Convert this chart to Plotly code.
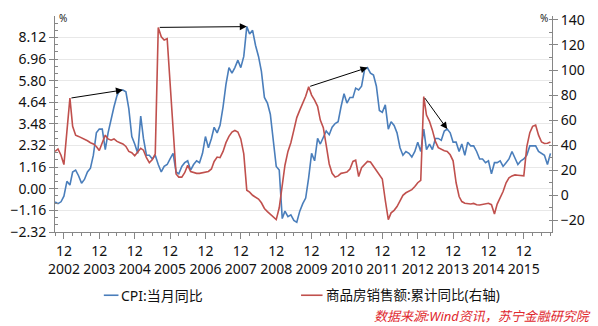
import pandas as pd
import plotly.graph_objects as go

# Monthly series, Sep 2002 - Sep 2016
months = pd.date_range("2002-09-01", periods=169, freq="MS")

# CPI: year-on-year, current month (%)
cpi_yoy = [
    -0.7, -0.8, -0.7, -0.4,
    0.4, 0.2, 0.9, 1.0, 0.7, 0.3, 0.5, 0.9, 1.1, 1.8, 3.0, 3.2,
    3.2, 2.1, 3.0, 3.8, 4.4, 5.0, 5.3, 5.3, 5.2, 4.3, 2.8, 2.4,
    1.9, 3.9, 2.7, 1.8, 1.8, 1.6, 1.8, 1.3, 0.9, 1.2, 1.3, 1.6,
    1.9, 0.9, 0.8, 1.2, 1.4, 1.5, 1.0, 1.3, 1.5, 1.4, 1.9, 2.8,
    2.2, 2.7, 3.3, 3.0, 3.4, 4.4, 5.6, 6.5, 6.2, 6.5, 6.9, 6.5,
    7.1, 8.7, 8.3, 8.5, 7.7, 7.1, 6.3, 4.9, 4.6, 4.0, 2.4, 1.2,
    1.0, -1.6, -1.2, -1.5, -1.4, -1.7, -1.8, -1.2, -0.8, -0.5, 0.6, 1.9,
    1.5, 2.7, 2.4, 2.8, 3.1, 2.9, 3.3, 3.5, 3.6, 4.4, 5.1, 4.6,
    4.9, 4.9, 5.4, 5.3, 5.5, 6.4, 6.5, 6.2, 6.1, 5.5, 4.2, 4.1,
    4.5, 3.2, 3.6, 3.4, 3.0, 2.2, 1.8, 2.0, 1.9, 1.7, 2.0, 2.5,
    2.0, 3.2, 2.1, 2.4, 2.1, 2.7, 2.7, 2.6, 3.1, 3.2, 3.0, 2.5,
    2.5, 2.0, 2.4, 1.8, 2.5, 2.3, 2.3, 2.0, 1.6, 1.6, 1.4, 1.5,
    0.8, 1.4, 1.4, 1.5, 1.2, 1.4, 1.6, 2.0, 1.6, 1.3, 1.5, 1.6,
    1.8, 2.3, 2.3, 2.3, 2.0, 1.9, 1.8, 1.3, 1.9,
]

# Commercial housing sales value: cumulative year-on-year (%), right axis
sales_yoy = [
    35, 37, 32, 24.5,
    51, 77.5, 55, 48, 47, 46, 44.5, 43.5, 42, 41, 39, 35.7,
    42, 48, 45, 44, 45, 43, 42, 41, 39, 35, 34, 31.5,
    34.5, 37.5, 36, 30, 26, 28.5, 33, 134, 126.5, 124, 125, 90,
    55, 17, 14.5, 14.5, 18, 24, 19, 18, 17.5, 17.5, 18, 18.5,
    19, 21, 27, 30.5, 30, 35, 42, 47, 50.5, 51.7, 50.5, 45,
    33, 4, 2.5, 0, -1.5, -3, -6, -10.5, -13, -15, -17.5, -19.4,
    -10, 9, 24, 35, 42, 52, 62, 68, 73, 79, 86.6, 80,
    76, 71, 60, 54, 40, 25, 17.5, 14.5, 15.5, 17.5, 18, 18.5,
    21, 27, 28, 15, 22, 25, 27, 26.5, 23, 19.5, 16, 13,
    -4, -19.4, -14, -12, -9, -4, 0, 2, 3, 4.5, 7, 10,
    12, 78.8, 64, 59, 52, 43, 38, 36.5, 35.5, 35, 32.3, 27.5,
    10, -1, -5, -6.4, -7, -7, -6.5, -7.5, -7.8, -7.2, -6.8, -6.4,
    -7.5, -15, -7, -2, 3, 10, 14, 15.5, 16.3, 16, 15.8, 15.5,
    38.8, 50, 55, 56, 48, 42.5, 41.3, 41.5, 42.6,
]

# Arrows: (peak of sales growth index, later CPI peak index)
arrow_pairs = [(5, 23), (35, 65), (86, 106), (125, 133)]

cpi_name = "CPI:当月同比"
sales_name = "商品房销售额:累计同比(右轴)"
source_text = "数据来源:Wind资讯，苏宁金融研究院"

BLUE = "#4a7ebb"
RED = "#c0504d"
AXIS = "#868686"
FONT = "Noto Sans, Noto Sans CJK SC, sans-serif"

W, H = 598, 326
ML, MR, MT, MB = 43, 46, 10, 94
left_range = [-2.3201, 9.27]
right_range = [-29.3, 143.1]

fig = go.Figure()
fig.add_trace(go.Scatter(x=months, y=cpi_yoy, name=cpi_name, mode="lines",
                         line=dict(color=BLUE, width=1.6), yaxis="y"))
fig.add_trace(go.Scatter(x=months, y=sales_yoy, name=sales_name, mode="lines",
                         line=dict(color=RED, width=1.6), yaxis="y2"))


def right_to_left(v):
    """Express a right-axis value in left-axis units."""
    f = (v - right_range[0]) / (right_range[1] - right_range[0])
    return left_range[0] + f * (left_range[1] - left_range[0])


annotations = []
for s_idx, c_idx in arrow_pairs:
    annotations.append(dict(
        x=months[c_idx], y=cpi_yoy[c_idx], xref="x", yref="y",
        ax=months[s_idx], ay=right_to_left(sales_yoy[s_idx]), axref="x", ayref="y",
        text="", showarrow=True, arrowhead=2, arrowsize=1.4, arrowwidth=1,
        arrowcolor="#000000", standoff=0, startstandoff=0,
    ))

pw = W - ML - MR
ph = H - MT - MB


def px(x):
    return (x - ML) / pw


def py(y):
    return (H - MB - y) / ph


# Unit marks on both axes
annotations.append(dict(x=px(45), y=py(12), xref="paper", yref="paper", text="%",
                        showarrow=False, xanchor="left", yanchor="middle",
                        font=dict(size=10, color="#222222")))
annotations.append(dict(x=px(550), y=py(12), xref="paper", yref="paper", text="%",
                        showarrow=False, xanchor="right", yanchor="middle",
                        font=dict(size=10, color="#222222")))

# Legend
shapes = [
    dict(type="line", xref="paper", yref="paper", x0=px(93), x1=px(108),
         y0=py(297), y1=py(297), line=dict(color=BLUE, width=1.6)),
    dict(type="line", xref="paper", yref="paper", x0=px(295), x1=px(317),
         y0=py(297), y1=py(297), line=dict(color=RED, width=1.6)),
]
annotations.append(dict(x=px(109), y=py(297), xref="paper", yref="paper", text=cpi_name,
                        showarrow=False, xanchor="left", yanchor="middle",
                        font=dict(size=14, color="#111111")))
annotations.append(dict(x=px(318), y=py(297), xref="paper", yref="paper", text=sales_name,
                        showarrow=False, xanchor="left", yanchor="middle",
                        font=dict(size=13.5, color="#111111")))
annotations.append(dict(x=px(594), y=py(318), xref="paper", yref="paper",
                        text="<i>" + source_text + "</i>",
                        showarrow=False, xanchor="right", yanchor="middle",
                        font=dict(size=13, color="#e0282e")))

fig.update_layout(
    width=W, height=H,
    margin=dict(l=ML, r=MR, t=MT, b=MB, pad=0),
    paper_bgcolor="white", plot_bgcolor="white",
    showlegend=False,
    font=dict(family=FONT, size=14, color="#111111"),
    xaxis=dict(
        type="date", range=["2002-08-31", "2016-09-17"],
        tick0="2002-12-01", dtick="M12", tickformat="%m<br>%Y",
        ticks="outside", ticklen=6, tickcolor=AXIS, tickwidth=1,
        showline=True, linecolor=AXIS, linewidth=1, showgrid=False, zeroline=False,
        tickfont=dict(size=14),
        minor=dict(ticks="outside", ticklen=3, tickcolor=AXIS, dtick="M3",
                   tick0="2002-12-01", showgrid=False),
    ),
    yaxis=dict(
        range=left_range, tick0=-2.32, dtick=1.16, tickformat=".2f",
        ticks="outside", ticklen=5, tickcolor=AXIS,
        showline=True, linecolor=AXIS, linewidth=1,
        showgrid=True, gridcolor="#e8e8e8", gridwidth=1, zeroline=False,
        tickfont=dict(size=14),
        minor=dict(ticks="inside", ticklen=3, tickcolor=AXIS, dtick=1.16 / 3,
                   tick0=-2.32, showgrid=False),
    ),
    yaxis2=dict(
        range=right_range, tick0=0, dtick=20, overlaying="y", side="right",
        ticks="outside", ticklen=5, tickcolor=AXIS,
        showline=True, linecolor=AXIS, linewidth=1,
        showgrid=False, zeroline=False,
        tickfont=dict(size=14),
        minor=dict(ticks="inside", ticklen=3, tickcolor=AXIS, dtick=10,
                   tick0=0, showgrid=False),
    ),
    annotations=annotations,
    shapes=shapes,
)

fig.write_html("out.html")
